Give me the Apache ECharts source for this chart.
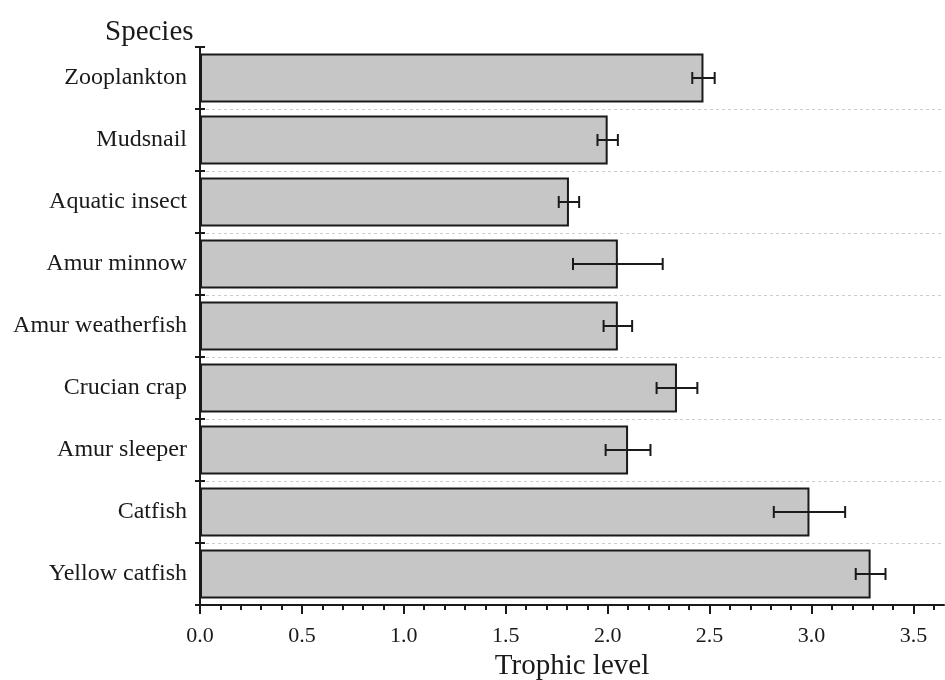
<!DOCTYPE html>
<html>
<head>
<meta charset="utf-8">
<script src="https://cdn.jsdelivr.net/npm/echarts@6/dist/echarts.min.js"></script>
<style>
html,body{margin:0;padding:0;background:#fff;}
#chart{width:945px;height:680px;}
</style>
</head>
<body>
<div id="chart"></div>
<script>
var categories = ['Zooplankton', 'Mudsnail', 'Aquatic insect', 'Amur minnow', 'Amur weatherfish', 'Crucian crap', 'Amur sleeper', 'Catfish', 'Yellow catfish'];
var trophicLevel = [2.47, 2.00, 1.81, 2.05, 2.05, 2.34, 2.10, 2.99, 3.29];
var errorSD = [0.055, 0.05, 0.05, 0.22, 0.07, 0.10, 0.11, 0.175, 0.073];
var xTicks = [0, 0.5, 1.0, 1.5, 2.0, 2.5, 3.0, 3.5];

var FONT = "'Liberation Serif', 'Times New Roman', serif";
var INK = '#1a1a1a';

var errData = categories.map(function (c, i) {
  return [trophicLevel[i] - errorSD[i], trophicLevel[i] + errorSD[i], i];
});

var chart = echarts.init(document.getElementById('chart'), null, {renderer: 'canvas'});
chart.setOption({
  animation: false,
  backgroundColor: '#ffffff',
  title: {
    text: 'Species',
    left: 100,
    top: 13,
    textStyle: {fontFamily: FONT, fontSize: 29, fontWeight: 'normal', color: INK}
  },
  grid: {left: 200, right: 1, top: 47, bottom: 75, containLabel: false, outerBoundsMode: 'none'},
  xAxis: {
    type: 'value',
    min: 0,
    max: 3.65,
    interval: 0.5,
    name: 'Trophic level',
    nameLocation: 'middle',
    nameGap: 42,
    nameTextStyle: {fontFamily: FONT, fontSize: 29, color: INK},
    axisLine: {show: true, lineStyle: {color: INK, width: 2}},
    axisTick: {show: true, inside: false, length: 9, customValues: xTicks, lineStyle: {color: INK, width: 2}},
    minorTick: {show: true, splitNumber: 5, length: 5, lineStyle: {color: INK, width: 2}},
    axisLabel: {
      fontFamily: FONT, fontSize: 22, color: INK, margin: 20,
      customValues: xTicks,
      formatter: function (v) { return (+v).toFixed(1); }
    },
    splitLine: {show: false}
  },
  yAxis: [{
    type: 'category',
    data: categories,
    inverse: true,
    axisLine: {show: true, lineStyle: {color: INK, width: 2}},
    axisTick: {show: true, inside: false, length: 5, lineStyle: {color: INK, width: 2}},
    axisLabel: {fontFamily: FONT, fontSize: 24, color: INK, margin: 13},
    splitLine: {
      show: true,
      interval: function (index) { return index !== 0; },
      lineStyle: {color: '#cccccc', width: 1, type: [3, 3]}
    }
  }, {
    type: 'category',
    data: categories,
    inverse: true,
    position: 'left',
    axisLine: {show: false},
    axisTick: {show: true, inside: true, length: 5, lineStyle: {color: INK, width: 2}},
    axisLabel: {show: false},
    splitLine: {show: false}
  }],
  series: [{
    type: 'bar',
    yAxisIndex: 0,
    data: trophicLevel,
    barCategoryGap: '21%',
    itemStyle: {color: '#c6c6c6', borderColor: INK, borderWidth: 2}
  }, {
    type: 'custom',
    yAxisIndex: 0,
    data: errData,
    z: 10,
    renderItem: function (params, api) {
      var lo = api.coord([api.value(0), api.value(2)]);
      var hi = api.coord([api.value(1), api.value(2)]);
      var cap = 6;
      var st = {stroke: INK, lineWidth: 2};
      return {
        type: 'group',
        children: [
          {type: 'line', shape: {x1: lo[0], y1: lo[1], x2: hi[0], y2: hi[1]}, style: st},
          {type: 'line', shape: {x1: lo[0], y1: lo[1] - cap, x2: lo[0], y2: lo[1] + cap}, style: st},
          {type: 'line', shape: {x1: hi[0], y1: hi[1] - cap, x2: hi[0], y2: hi[1] + cap}, style: st}
        ]
      };
    }
  }]
});
</script>
</body>
</html>
